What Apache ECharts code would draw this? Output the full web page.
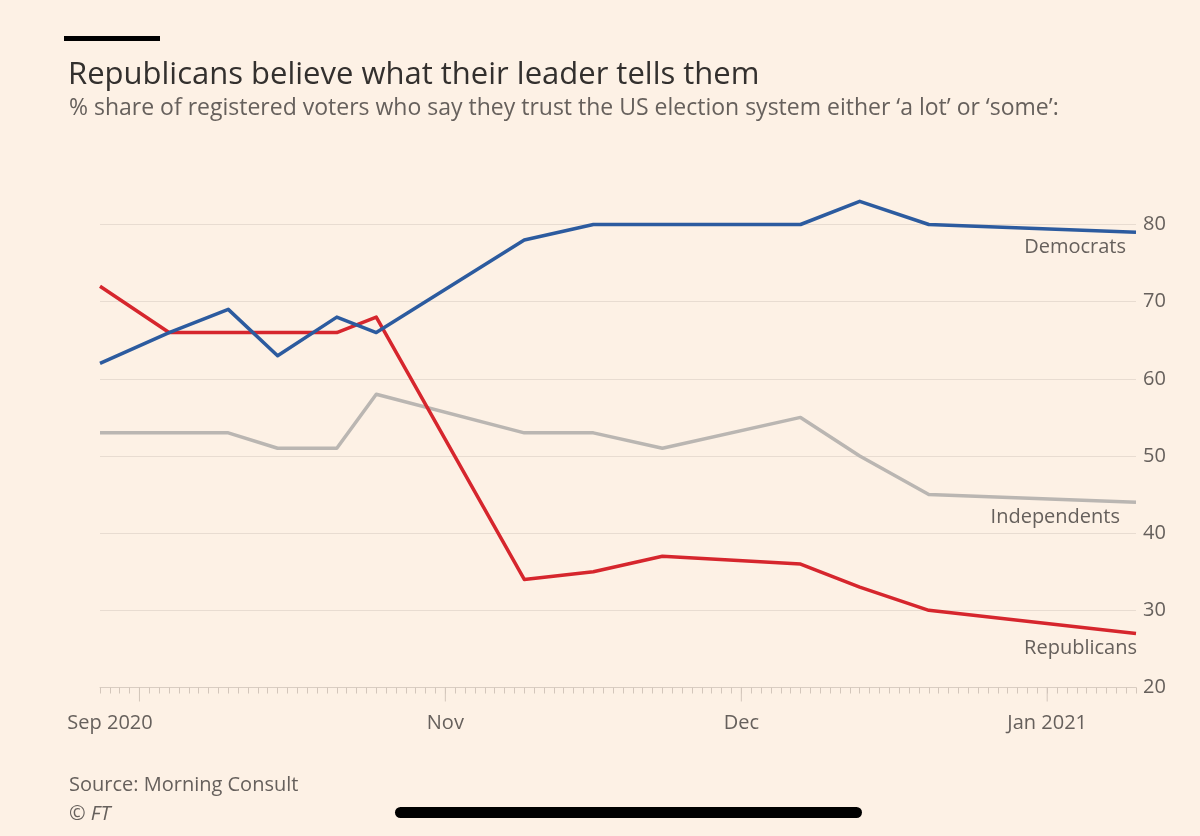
<!DOCTYPE html>
<html>
<head>
<meta charset="utf-8">
<title>Republicans believe what their leader tells them</title>
<script src="https://cdn.jsdelivr.net/npm/echarts@6/dist/echarts.min.js"></script>
<style>
    html, body { margin: 0; padding: 0; background: #fdf1e5; }
    #chart { width: 1200px; height: 836px; }
</style>
</head>
<body>
<div id="chart"></div>
<script>
// Poll dates (Morning Consult)
const pollDates = ['2020-09-27', '2020-10-04', '2020-10-10', '2020-10-15', '2020-10-21', '2020-10-25',
    '2020-11-09', '2020-11-16', '2020-11-23', '2020-12-07', '2020-12-13', '2020-12-20', '2021-01-10'];
const democrats    = [62, 66, 69, 63, 68, 66, 78, 80, 80, 80, 83, 80, 79];
const republicans  = [72, 66, 66, 66, 66, 68, 34, 35, 37, 36, 33, 30, 27];
const independents = [53, 53, 53, 51, 51, 58, 53, 53, 51, 55, 50, 45, 44];

// x axis labels and the long month ticks
const labelDates = ['2020-09-27', '2020-11-01', '2020-12-01', '2021-01-01'];
const labelTexts = ['Sep 2020', 'Nov', 'Dec', 'Jan 2021'];
const monthTicks = ['2020-10-01', '2020-11-01', '2020-12-01', '2021-01-01'];
const axisStart = '2020-09-27';
const axisEnd = '2021-01-10';

const DAY = 86400000;
const ts = d => Date.parse(d);
const pairs = values => pollDates.map((d, i) => [ts(d), values[i]]);

const chart = echarts.init(document.getElementById('chart'));
const grey = '#66605c';
const font = '"Open Sans", "Noto Sans", sans-serif';

function lineSeries(name, values, color, offset) {
    return {
        name: name,
        type: 'line',
        data: pairs(values),
        clip: false,
        symbol: 'none',
        lineStyle: { color: color, width: 3.5, join: 'round' },
        itemStyle: { color: color },
        endLabel: {
            show: true,
            formatter: '{a}',
            align: 'right',
            offset: offset,
            color: grey,
            fontSize: 20,
            fontFamily: font
        },
        emphasis: { disabled: true },
        silent: true
    };
}

chart.setOption({
    backgroundColor: '#fdf1e5',
    animation: false,
    textStyle: { fontFamily: font },
    title: [{
        text: 'Republicans believe what their leader tells them',
        left: 63, top: 55,
        textStyle: { color: '#33302e', fontSize: 31, fontWeight: 'normal', fontFamily: font }
    }, {
        text: '% share of registered voters who say they trust the US election system either \u2018a lot\u2019 or \u2018some\u2019:',
        left: 64, top: 92,
        textStyle: { color: grey, fontSize: 23, fontWeight: 'normal', fontFamily: font }
    }, {
        text: 'Source: Morning Consult',
        left: 64, top: 770,
        textStyle: { color: grey, fontSize: 20, fontWeight: 'normal', fontFamily: font }
    }, {
        text: '\u00a9 {i|FT}',
        left: 64, top: 799,
        textStyle: {
            color: grey, fontSize: 20, fontWeight: 'normal', fontFamily: font,
            rich: { i: { fontStyle: 'italic', fontSize: 20, color: grey, fontFamily: font } }
        }
    }],
    graphic: [
        { type: 'rect', left: 64, top: 36, shape: { width: 96, height: 5 }, style: { fill: '#000' } },
        { type: 'rect', left: 395, top: 807, shape: { width: 467, height: 11, r: 5.5 }, style: { fill: '#000' } }
    ],
    grid: { left: 100, right: 64, top: 224.5, bottom: 148.5 },
    xAxis: {
        type: 'value',
        min: ts(axisStart),
        max: ts(axisEnd),
        interval: DAY,
        axisLine: { show: true, lineStyle: { color: '#d9cdc2', width: 1 } },
        axisTick: { show: true, length: 6, lineStyle: { color: '#d3c6bb' } },
        splitLine: { show: false },
        axisLabel: {
            margin: 26,
            color: grey,
            fontSize: 20,
            fontFamily: font,
            formatter: function (v) {
                const i = labelDates.findIndex(d => ts(d) === v);
                if (i < 0) return '';
                return i === 0 ? '{s|' + labelTexts[i] + '}' : labelTexts[i];
            },
            rich: { s: { color: grey, fontSize: 20, fontFamily: font, padding: [0, 0, 0, 20] } }
        }
    },
    yAxis: {
        type: 'value',
        position: 'right',
        min: 20,
        max: 80,
        interval: 10,
        axisLine: { show: false },
        axisTick: { show: false },
        axisLabel: { color: grey, fontSize: 20, fontFamily: font, margin: 7 },
        splitLine: { lineStyle: { color: '#e8dcd1', width: 1 } }
    },
    series: [
        lineSeries('Independents', independents, '#bab6b2', [-24, 15]),
        lineSeries('Republicans', republicans, '#d6262d', [-7, 15]),
        lineSeries('Democrats', democrats, '#2c5b9f', [-18, 15]),
        {
            name: 'monthTicks',
            type: 'custom',
            clip: false,
            silent: true,
            data: monthTicks.map(d => [ts(d), 20]),
            renderItem: function (params, api) {
                const p = api.coord([api.value(0), api.value(1)]);
                return {
                    type: 'line',
                    shape: { x1: p[0], y1: p[1], x2: p[0], y2: p[1] + 14 },
                    style: { stroke: '#d3c6bb', lineWidth: 1 }
                };
            }
        }
    ]
});
</script>
</body>
</html>
